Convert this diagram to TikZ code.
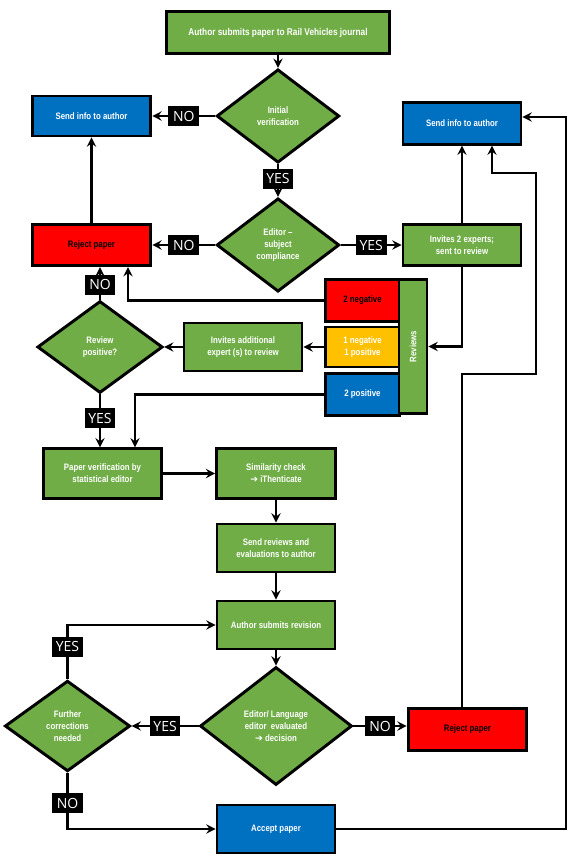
\documentclass[tikz,border=0pt]{standalone}
\usepackage{fontspec}
\setmainfont{Liberation Sans}
\newfontfamily\boxfont{Liberation Sans}[FakeStretch=0.84]
\newfontfamily\tagfont{Open Sans}
\newfontfamily\symfont{DejaVu Sans}
\usetikzlibrary{shapes.geometric,arrows.meta,calc}

\definecolor{flowgreen}{HTML}{70AD47}
\definecolor{flowblue}{HTML}{0070C0}
\definecolor{flowred}{HTML}{FF0000}
\definecolor{flowyellow}{HTML}{FFC000}

\newcommand{\goto}{{\symfont\bfseries ➔}}

\tikzset{
	box/.style={draw, line width=2.2pt, align=center, inner sep=1pt, text=white,
		font=\boxfont\bfseries\fontsize{7}{9}\selectfont},
	greenbox/.style={box, fill=flowgreen},
	bluebox/.style={box, fill=flowblue},
	redbox/.style={box, fill=flowred, text=black},
	yellowbox/.style={box, fill=flowyellow},
	decision/.style={diamond, draw, line width=2.2pt, fill=flowgreen, text=white, align=center,
		inner sep=0pt, font=\boxfont\bfseries\fontsize{7}{9}\selectfont},
	tag/.style={fill=black, text=white, inner sep=0pt, minimum width=23pt, minimum height=15pt,
		font=\tagfont\fontsize{10.5}{10.5}\selectfont},
	link/.style={->, line width=1.9pt}
}

\begin{document}
\begin{tikzpicture}[x=0.75pt, y=-0.75pt, >={Stealth[length=7pt,width=7pt,inset=2.5pt]}]
	\useasboundingbox (0,0) rectangle (580,864);
	% first round
	\node[greenbox, minimum width=167pt, minimum height=31pt, font=\boxfont\bfseries\fontsize{7.4}{9}\selectfont] (submit) at (278, 32.5) {Author submits paper to Rail Vehicles journal};
	\node[decision, minimum width=92pt, minimum height=70pt] (initial) at (278, 116) {Initial\\verification};
	\node[bluebox, minimum width=89pt, minimum height=30pt] (info1) at (91.5, 116) {Send info to author};
	\node[decision, minimum width=92pt, minimum height=70pt] (editor) at (278, 245) {Editor –\\subject\\compliance};
	\node[redbox, minimum width=89pt, minimum height=31pt] (reject1) at (91.5, 245) {Reject paper};
	\node[greenbox, minimum width=88.5pt, minimum height=31pt] (invite2) at (462, 245) {Invites 2 experts;\\sent to review};
	\node[bluebox, minimum width=88.5pt, minimum height=31pt] (info2) at (462, 123.5) {Send info to author};
	% reviews
	\node[redbox, minimum width=55pt, minimum height=31pt] (neg2) at (362.5, 300.5) {2 negative};
	\node[yellowbox, minimum width=55pt, minimum height=30pt] (mixed) at (362.5, 347) {1 negative\\1 positive};
	\node[bluebox, minimum width=55pt, minimum height=31pt] (pos2) at (362.5, 394.5) {2 positive};
	\node[greenbox, minimum width=21pt, minimum height=100pt] (reviews) at (413, 346.5) {\rotatebox{90}{Reviews}};
	\node[greenbox, minimum width=88.5pt, minimum height=36pt] (invadd) at (243, 347) {Invites additional\\expert (s) to review};
	\node[decision, minimum width=94pt, minimum height=69pt] (review) at (100, 347) {Review\\positive?};
	% second round
	\node[greenbox, minimum width=89pt, minimum height=37pt] (paperver) at (102.5, 473.5) {Paper verification by\\statistical editor};
	\node[greenbox, minimum width=89pt, minimum height=37pt] (simil) at (276, 473.5) {Similarity check\\\goto\ iThenticate};
	\node[greenbox, minimum width=88.5pt, minimum height=36pt] (sendrev) at (276, 548) {Send reviews and\\evaluations to author};
	\node[greenbox, minimum width=88.5pt, minimum height=36pt] (revision) at (276, 625) {Author submits revision};
	\node[decision, minimum width=114pt, minimum height=88.5pt] (langed) at (276, 726) {Editor/ Language\\editor~ evaluated\\\goto\ decision};
	\node[decision, minimum width=94pt, minimum height=68pt] (further) at (67.5, 726) {Further\\corrections\\needed};
	\node[redbox, minimum width=89pt, minimum height=31pt] (reject2) at (467.5, 729.5) {Reject paper};
	\node[bluebox, minimum width=88.5pt, minimum height=36pt] (accept) at (276, 829) {Accept paper};
	\coordinate (j1) at (536, 374);
	\coordinate (j2) at (536, 173);
	\coordinate (j3) at (566, 117);

	\draw[link] (submit) to (initial);
	\draw[link] (initial) to node[tag] {NO} (info1);
	\draw[link] (initial) to node[tag, pos=0.45] {YES} (editor);
	\draw[link] (editor) to node[tag] {NO} (reject1);
	\draw[link] (editor) to node[tag] {YES} (invite2);
	\draw[link] (invite2) to (info2);
	\draw[link] (reject1) to (info1);
	\draw[link] (invite2.south) |- (reviews.east);
	\draw[link] (neg2.west) -| ($(reject1.south)+(36.5,0)$);
	\draw[link] (mixed) to (invadd);
	\draw[link] (invadd) to (review);
	\draw[link] (review.north) to node[tag, pos=0.45] {NO} (review.north |- reject1.south);
	\draw[link] (review.south) to node[tag, pos=0.45] {YES} (review.south |- paperver.north);
	\draw[link] (pos2.west) -| ($(paperver.north)+(32.5,0)$);
	\draw[link] (paperver) to (simil);
	\draw[link] (simil) to (sendrev);
	\draw[link] (sendrev) to (revision);
	\draw[link] (revision) to (langed);
	\draw[link] (langed) to node[tag] {YES} (further);
	\draw[link] (langed) to node[tag] {NO} (reject2.west |- langed);
	\draw[link] (further.north) |- node[tag, pos=0.3] {YES} (revision.west);
	\draw[link] (further.south) |- node[tag, pos=0.27] {NO} (accept.west);
	\draw[link] (reject2.north -| info2) |- (j1) -- (j2) -| ($(info2.south)+(30,0)$);
	\draw[link] (accept.east) -| (j3) -- (j3 -| info2.east);
\end{tikzpicture}
\end{document}
